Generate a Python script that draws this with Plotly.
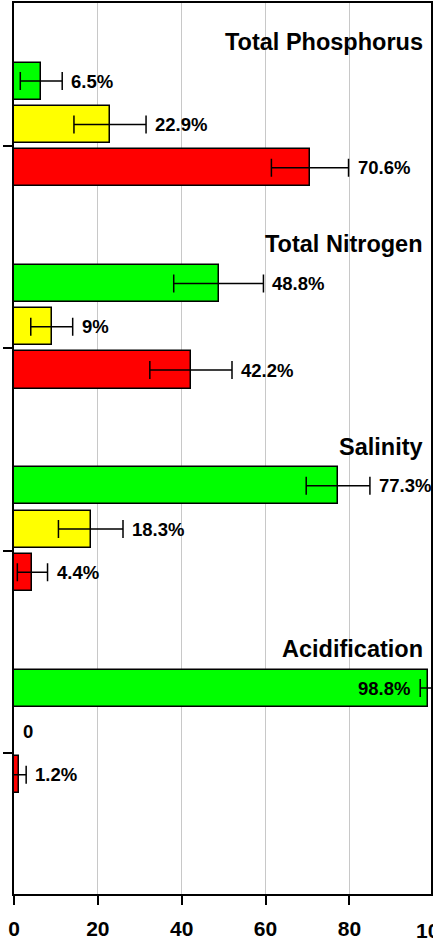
import plotly.graph_objects as go

# Indicators, top to bottom
categories = ["Total Phosphorus", "Total Nitrogen", "Salinity", "Acidification"]

# Share of sites (%) in each condition class, with +/- error
good = [6.5, 48.8, 77.3, 98.8]
good_err = [5.0, 10.7, 7.6, 1.9]
fair = [22.9, 9.0, 18.3, 0.0]
fair_err = [8.6, 5.0, 7.7, 0.0]
poor = [70.6, 42.2, 4.4, 1.2]
poor_err = [9.2, 9.8, 3.6, 1.7]

x_ticks = [0, 20, 40, 60, 80, 100]

X_MAX = 99.47
SLOT = 0.214      # spacing between bar slots within a group (y units)
BAR_W = 0.183     # bar thickness (y units)

FONT = "Liberation Sans, Arial, sans-serif"
ypos = list(range(len(categories)))

series = [
    (good, good_err, "#00ff00"),
    (fair, fair_err, "#ffff00"),
    (poor, poor_err, "#ff0000"),
]

fig = go.Figure()
annotations = []

# four slots per group; the bottom slot is left empty
for k, (vals, errs, color) in enumerate(series):
    center = (k - 1.5) * SLOT
    # zero shares draw no bar and no whiskers, only their "0" label
    bar_x = [v if v > 0 else None for v in vals]
    err_arr = [e if v > 0 else None for v, e in zip(vals, errs)]
    fig.add_trace(go.Bar(
        orientation="h",
        x=bar_x,
        y=ypos,
        offset=center - BAR_W / 2,
        width=BAR_W,
        marker=dict(color=color, line=dict(color="black", width=1.5)),
        error_x=dict(type="data", array=err_arr, visible=True,
                     color="black", thickness=1.5, width=9),
        showlegend=False,
        hoverinfo="x",
    ))
    for i, (v, e) in enumerate(zip(vals, errs)):
        txt = "0" if v == 0 else f"{v:g}%"
        if v + e > X_MAX:
            ax, anchor, shift = v - e, "right", -8
        else:
            ax, anchor, shift = v + e, "left", 7
        annotations.append(dict(
            x=ax, y=i + center, xref="x", yref="y", text=txt,
            showarrow=False, xanchor=anchor, yanchor="middle", xshift=shift,
            font=dict(family=FONT, size=18.5, color="black", weight="bold"),
        ))

# indicator headings above each group
for i, name in enumerate(categories):
    annotations.append(dict(
        x=0.985, y=i, xref="paper", yref="y", text=name,
        showarrow=False, xanchor="right", yanchor="middle", yshift=104,
        font=dict(family=FONT, size=23.5, color="black", weight="bold"),
    ))

# last tick label sits at the right edge of the axis
annotations.append(dict(
    x=x_ticks[-1] / X_MAX, y=0, xref="paper", yref="paper", text=str(x_ticks[-1]),
    showarrow=False, xanchor="center", yanchor="middle", yshift=-36,
    font=dict(family=FONT, size=21, color="black", weight="bold"),
))

fig.update_layout(
    width=433, height=942,
    margin=dict(l=14, r=0, t=3, b=48, pad=0),
    paper_bgcolor="white", plot_bgcolor="white",
    annotations=annotations,
    bargap=0, bargroupgap=0,
)

fig.update_xaxes(
    range=[0, X_MAX],
    tickvals=x_ticks[:-1],
    ticks="outside", ticklen=9, tickwidth=1.5, tickcolor="black",
    ticklabelstandoff=6,
    tickfont=dict(family=FONT, size=21, color="black", weight="bold"),
    showgrid=True, gridcolor="#c8c8c8", gridwidth=1,
    showline=True, linecolor="black", linewidth=2, mirror=True,
    zeroline=False,
)
fig.update_yaxes(
    range=[3.697, -0.707],
    tickvals=ypos, showticklabels=False,
    ticks="outside", ticklen=9, tickwidth=1.5, tickcolor="black",
    showgrid=False, zeroline=False,
    showline=True, linecolor="black", linewidth=2, mirror=True,
)

fig.write_html("out.html")
